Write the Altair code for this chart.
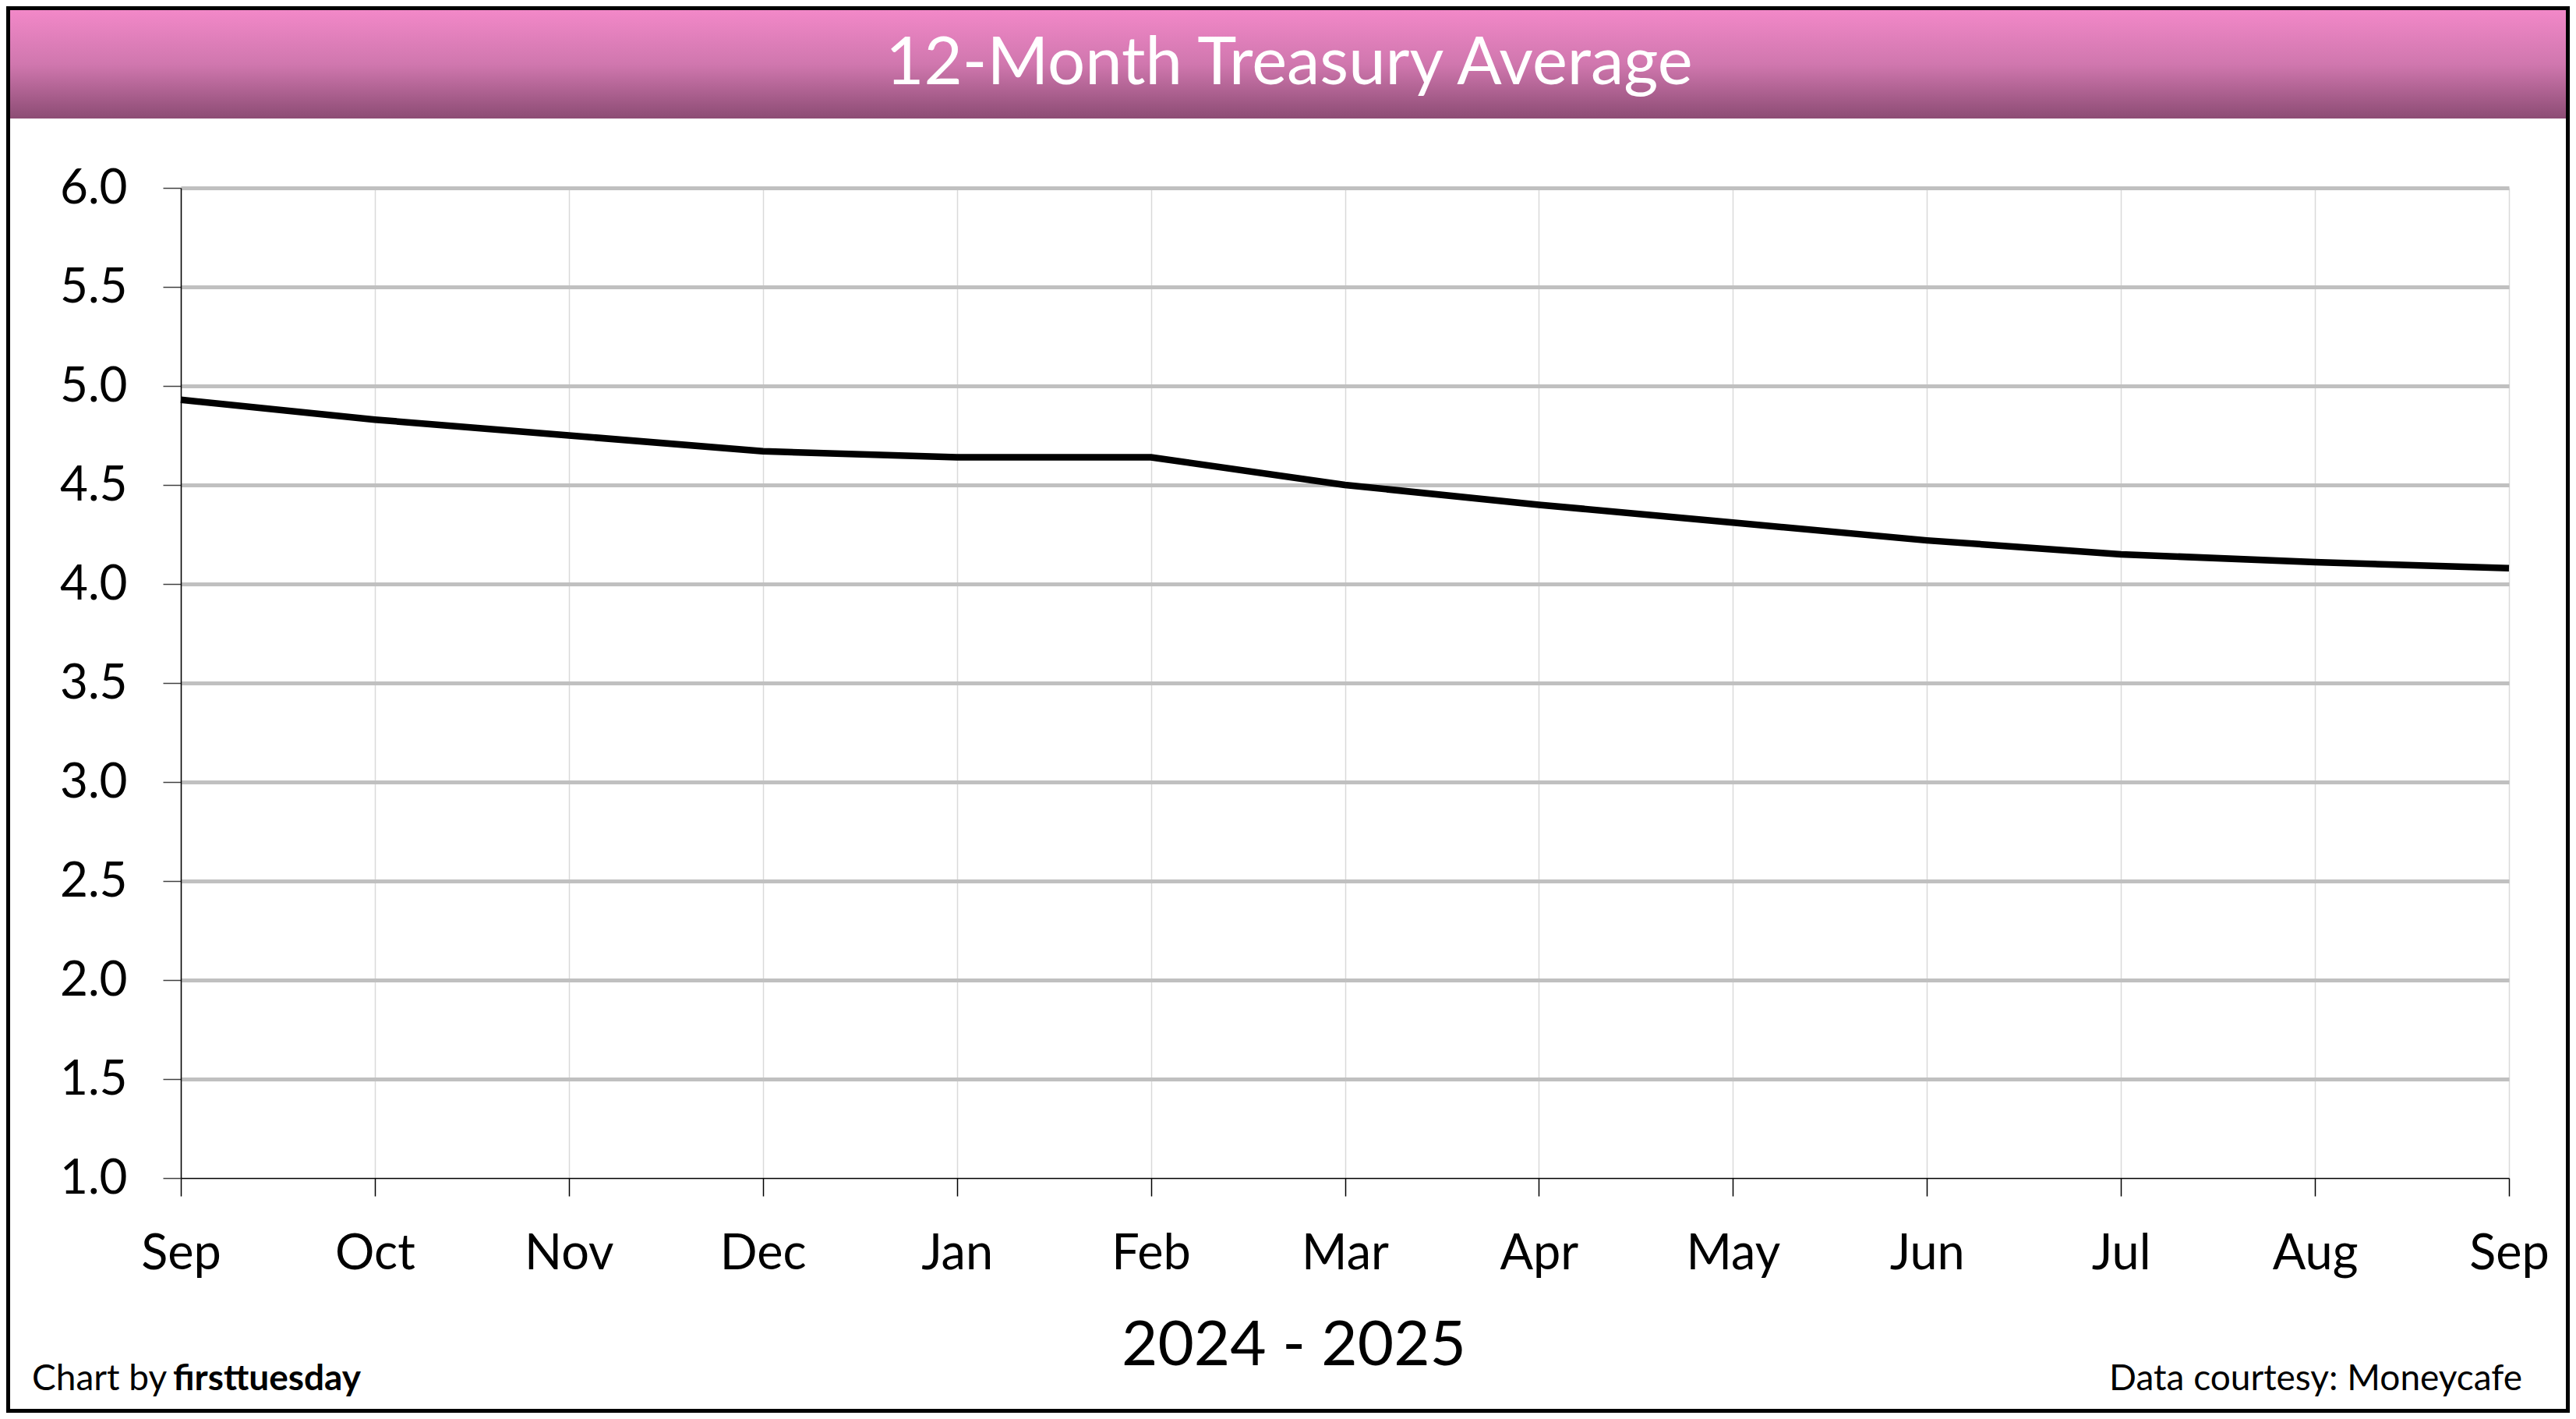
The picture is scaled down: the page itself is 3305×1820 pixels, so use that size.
import altair as alt
import pandas as pd

# ---- data ----
MONTH_LABELS = ["Sep", "Oct", "Nov", "Dec", "Jan", "Feb", "Mar", "Apr", "May", "Jun", "Jul", "Aug", "Sep"]
RATES = [4.93, 4.83, 4.75, 4.67, 4.64, 4.64, 4.50, 4.40, 4.31, 4.22, 4.15, 4.11, 4.08]
Y_TICKS = [1.0, 1.5, 2.0, 2.5, 3.0, 3.5, 4.0, 4.5, 5.0, 5.5, 6.0]

TITLE = "12-Month Treasury Average"
X_TITLE = "2024 - 2025"
CREDIT_PREFIX = "Chart by"
CREDIT_BRAND = "firsttuesday"
SOURCE = "Data courtesy: Moneycafe"

FONT = "Lato"

# ---- layout (pixels) ----
CHART_W, CHART_H = 3289, 1804
PAD_L, PAD_T = 224, 233
PLOT_W, PLOT_H = 2987, 1270
PAD_R = CHART_W - PAD_L - PLOT_W
PAD_B = CHART_H - PAD_T - PLOT_H

LEFT, TOP = -PAD_L, -PAD_T
RIGHT, BOTTOM = CHART_W - PAD_L, CHART_H - PAD_T

keys = [f"{i:02d}|{m}" for i, m in enumerate(MONTH_LABELS)]
df = pd.DataFrame({"key": keys, "rate": RATES})

x_enc = alt.X(
    "key:O",
    sort=None,
    scale=alt.Scale(padding=0),
    axis=alt.Axis(
        title=None,
        labelExpr="split(datum.label, '|')[1]",
        labelAngle=0,
        labelFont=FONT,
        labelFontSize=63,
        labelColor="black",
        labelPadding=43,
        tickSize=23,
        tickColor="black",
        tickWidth=1.5,
        domainColor="black",
        domainWidth=1.5,
        grid=True,
        gridColor="#D9D9D9",
        gridWidth=1.5,
    ),
)
y_enc = alt.Y(
    "rate:Q",
    scale=alt.Scale(domain=[1, 6], nice=False, zero=False),
    axis=alt.Axis(
        title=None,
        values=Y_TICKS,
        format=".1f",
        labelFont=FONT,
        labelFontSize=62,
        labelColor="black",
        labelPadding=46,
        tickSize=23,
        tickColor="#404040",
        tickWidth=1.5,
        domainColor="black",
        domainWidth=1.5,
        grid=True,
        gridColor={"condition": {"test": "datum.value <= 1", "value": "transparent"}, "value": "#C0C0C0"},
        gridWidth=5,
    ),
)

line = alt.Chart(df).mark_line(color="black", strokeWidth=8.5, strokeJoin="round").encode(x=x_enc, y=y_enc)

one = pd.DataFrame({"t": [TITLE]})

title_bar = alt.Chart(one).mark_rect(
    fill={
        "gradient": "linear",
        "x1": 0, "x2": 0, "y1": 0, "y2": 1,
        "stops": [
            {"offset": 0, "color": "#F288C8"},
            {"offset": 0.5, "color": "#D077AE"},
            {"offset": 1, "color": "#8C4C74"},
        ],
    }
).encode(
    x=alt.value(LEFT + 5), x2=alt.value(RIGHT - 5),
    y=alt.value(TOP + 5), y2=alt.value(152 - 241),
)

border = alt.Chart(one).mark_rect(fill="transparent", stroke="black", strokeWidth=5).encode(
    x=alt.value(LEFT + 2.5), x2=alt.value(RIGHT - 2.5),
    y=alt.value(TOP + 2.5), y2=alt.value(BOTTOM - 2.5),
)

title_text = alt.Chart(pd.DataFrame({"t": [TITLE]})).mark_text(
    font=FONT, fontSize=85, color="white", align="center", baseline="alphabetic"
).encode(text="t:N", x=alt.value(1654 - 232), y=alt.value(108 - 241))

x_title = alt.Chart(pd.DataFrame({"t": [X_TITLE]})).mark_text(
    font=FONT, fontSize=80, color="black", align="center", baseline="alphabetic"
).encode(text="t:N", x=alt.value(1660 - 232), y=alt.value(1751 - 241))

credit1 = alt.Chart(pd.DataFrame({"t": [CREDIT_PREFIX]})).mark_text(
    font=FONT, fontSize=46, color="black", align="left", baseline="alphabetic"
).encode(text="t:N", x=alt.value(41 - 232), y=alt.value(1783 - 241))

credit2 = alt.Chart(pd.DataFrame({"t": [CREDIT_BRAND]})).mark_text(
    font=FONT, fontSize=46, fontWeight="bold", color="black", align="left", baseline="alphabetic"
).encode(text="t:N", x=alt.value(222 - 232), y=alt.value(1783 - 241))

source = alt.Chart(pd.DataFrame({"t": [SOURCE]})).mark_text(
    font=FONT, fontSize=46, color="black", align="right", baseline="alphabetic"
).encode(text="t:N", x=alt.value(3236 - 232), y=alt.value(1783 - 241))

chart = alt.layer(
    title_bar, line, border, title_text, x_title, credit1, credit2, source
).properties(
    width=PLOT_W,
    height=PLOT_H,
    autosize=alt.AutoSizeParams(type="none"),
    padding={"left": PAD_L, "top": PAD_T, "right": PAD_R, "bottom": PAD_B},
    background="white",
).configure_view(strokeWidth=0)

chart.save("out.html", embed_options={"renderer": "svg", "actions": False})
